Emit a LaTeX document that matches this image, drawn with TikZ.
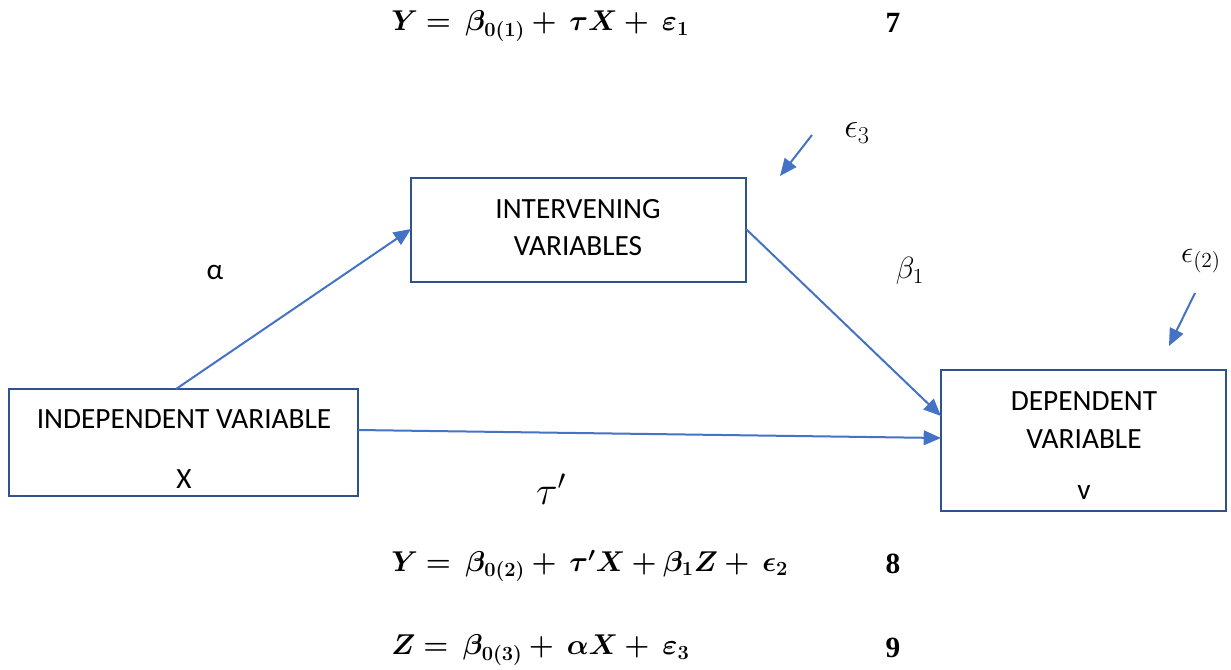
\RequirePackage{fix-cm}
\documentclass[tikz,border=0pt]{standalone}
\usepackage{amsmath,bm}
\usepackage{fontspec}
\setmainfont{Carlito}
\newfontfamily\eqnum{Liberation Serif}
\usetikzlibrary{arrows.meta}
\definecolor{arrblue}{RGB}{68,114,196}
\definecolor{boxblue}{RGB}{47,82,143}
\begin{document}
\begin{tikzpicture}[x=0.75pt,y=-0.75pt,
  box/.style={draw=boxblue,line width=1.4pt,fill=white,inner sep=0pt},
  txt/.style={inner sep=0pt,font=\fontsize{22}{26}\selectfont},
  conn/.style={draw=arrblue,line width=1.5pt,-{Triangle[length=13pt,width=11pt]}},
  eq/.style={inner sep=0pt,anchor=west,font=\fontsize{21.5}{25}\selectfont},
  num/.style={inner sep=0pt,font=\fontsize{22}{26}\selectfont\eqnum\bfseries},
  glab/.style={inner sep=0pt}]
\useasboundingbox (0,0) rectangle (1231,669);
% boxes
\node[box,minimum width=335*0.75pt,minimum height=104*0.75pt] (iv) at (578.5,230) {};
\node[box,minimum width=349*0.75pt,minimum height=107*0.75pt] (ind) at (183.5,442.5) {};
\node[box,minimum width=285*0.75pt,minimum height=141*0.75pt] (dep) at (1083.5,440.5) {};
% box texts
\node[txt] (t1) at (578,209) {INTERVENING};
\node[txt] (t2) at (578,246) {VARIABLES};
\node[txt] (t3) at (184,419) {INDEPENDENT VARIABLE};
\node[txt] (t4) at (184,479) {X};
\node[txt] (t5) at (1084,401) {DEPENDENT};
\node[txt] (t6) at (1084,439) {VARIABLE};
\node[txt] (t7) at (1084,492) {v};
% connector anchors
\coordinate (a1) at (176,389);
\coordinate (a2) at (411,229);
\coordinate (b1) at (746,229);
\coordinate (b2) at (941,416);
\coordinate (c1) at (358,430);
\coordinate (c2) at (941,438);
\coordinate (e3s) at (812,135);
\coordinate (e3e) at (780,176);
\coordinate (e2s) at (1195,293);
\coordinate (e2e) at (1169,346);
\draw[conn] (a1) -- (a2);
\draw[conn] (b1) -- (b2);
\draw[conn] (c1) -- (c2);
\draw[conn] (e3s) -- (e3e);
\draw[conn] (e2s) -- (e2e);
% labels
\node[txt] (alpha) at (215,272) {α};
\node[glab,font=\fontsize{23}{27}\selectfont] (beta) at (910,271) {$\beta_1$};
\node[glab,font=\fontsize{26}{30}\selectfont] (eps3) at (857,133) {$\epsilon_3$};
\node[glab,font=\fontsize{23}{27}\selectfont] (eps2) at (1201,261) {$\epsilon_{(2)}$};
\node[glab,font=\fontsize{30}{34}\selectfont] (tau) at (551,489) {$\tau'$};
% equations
\node[eq] (eq7) at (391,26) {$\bm{Y =\ \beta_{0(1)} +\ \tau X +\ \varepsilon_1}$};
\node[num] (n7) at (893,23) {7};
\node[eq] (eq8) at (391,566) {$\bm{Y =\ \beta_{0(2)} +\ \tau' X + \beta_1 Z +\ \epsilon_2}$};
\node[num] (n8) at (893,564) {8};
\node[eq] (eq9) at (391,650) {$\bm{Z =\ \beta_{0(3)} +\ \alpha X +\ \varepsilon_3}$};
\node[num] (n9) at (893,648) {9};
\end{tikzpicture}
\end{document}
